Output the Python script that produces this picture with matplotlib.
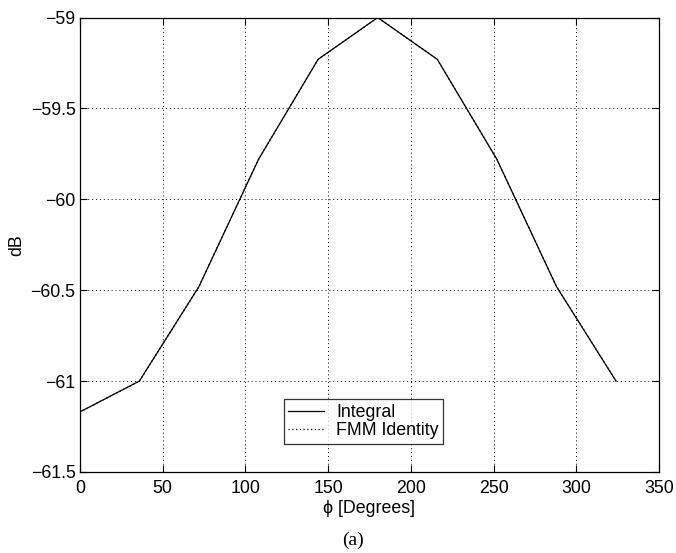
import matplotlib.pyplot as plt

plt.rcParams['font.family'] = ['Liberation Sans', 'DejaVu Sans']

# azimuth samples and levels
phi_deg = [0, 36, 72, 108, 144, 180, 216, 252, 288, 324]
integral_db = [-61.17, -61.0, -60.48, -59.78, -59.23, -59.0, -59.23, -59.78, -60.48, -61.0]
fmm_db = [-61.17, -61.0, -60.48, -59.78, -59.23, -59.0, -59.23, -59.78, -60.48, -61.0]

x_ticks = [0, 50, 100, 150, 200, 250, 300, 350]
y_ticks = [-61.5, -61, -60.5, -60, -59.5, -59]
y_labels = ["\u221261.5", "\u221261", "\u221260.5", "\u221260", "\u221259.5", "\u221259"]

FS = 12.8

fig = plt.figure(figsize=(6.76, 5.53), dpi=100)
ax = fig.add_axes([0.118, 0.1465, 0.857, 0.8218])

ax.plot(phi_deg, integral_db, color="black", lw=0.9, label="Integral")
ax.plot(phi_deg, fmm_db, color="black", lw=0.9, ls=(0, (1, 2)), label="FMM Identity")

ax.set_xlim(0, 350)
ax.set_ylim(-61.5, -59)
ax.set_xticks(x_ticks)
ax.set_yticks(y_ticks)
ax.set_yticklabels(y_labels)
ax.tick_params(direction="in", top=True, right=True, labelsize=FS, length=5, width=0.8)
ax.tick_params(axis="x", pad=6)
ax.tick_params(axis="y", pad=3)
ax.grid(True, color="black", ls=(0, (1, 3)), lw=0.7)
for s in ax.spines.values():
    s.set_linewidth(0.9)

ax.set_xlabel("\u03d5 [Degrees]", fontsize=FS, labelpad=2)
ax.set_ylabel("dB", fontsize=FS, labelpad=4)

leg = ax.legend(loc="lower center", bbox_to_anchor=(0.49, 0.062), borderaxespad=0,
                fontsize=FS, frameon=True, fancybox=False, handlelength=2.0,
                borderpad=0.25, labelspacing=0.08, handletextpad=0.7)
leg.get_frame().set_edgecolor("black")
leg.get_frame().set_linewidth(0.9)

fig.text(0.522, 0.023, "(a)", fontsize=14, family="Liberation Serif", ha="center", va="center")

fig.savefig("out.png", dpi=100)
